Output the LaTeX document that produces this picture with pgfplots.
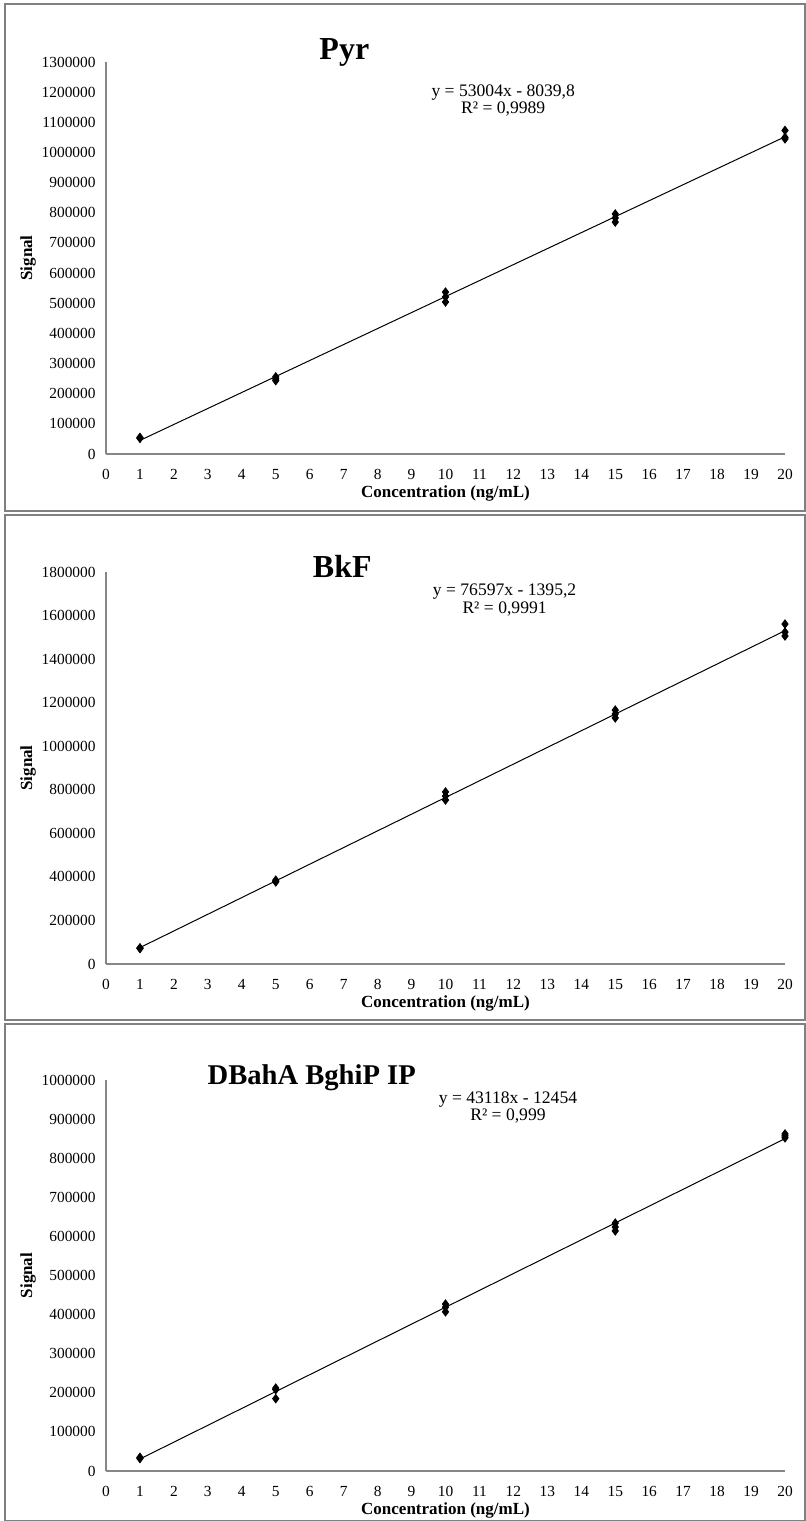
\documentclass[border=0pt]{standalone}
\usepackage{fontspec}
\setmainfont{Liberation Serif}
\usepackage{pgfplots}
\pgfplotsset{compat=1.18}
\definecolor{axgray}{RGB}{134,134,134}
\definecolor{framegray}{RGB}{128,128,128}

\tikzset{eqn/.style={font=\fontsize{8.8}{8.8}\selectfont, align=center}}
\pgfplotsset{
  calib/.style={
    scale only axis, width=339.5pt, height=196pt,
    anchor=south west,
    xmin=0, xmax=20, xtick={0,...,20}, ymin=0,
    axis lines=left,
    axis line style={axgray, line width=0.6pt, -},
    major tick length=0pt,
    tick label style={font=\fontsize{7.7}{9}\selectfont},
    /pgf/number format/assume math mode=true,
    scaled y ticks=false,
    yticklabel style={/pgf/number format/fixed, /pgf/number format/1000 sep={}, inner sep=0pt, xshift=-5pt},
    xticklabel style={inner sep=0pt, yshift=-7.5pt},
    xlabel={Concentration (ng/mL)},
    ylabel={Signal},
    label style={font=\bfseries\fontsize{8.5}{10}\selectfont},
    xlabel style={at={(axis description cs:0.5,-0.101)}, anchor=center},
    ylabel style={at={(axis description cs:-0.1149,0.5)}, anchor=center},
    clip=false,
  },
  pts/.style={only marks, mark=diamond*, mark size=2.1pt, black},
  fitl/.style={black, line width=0.5pt, no marks},
}

\begin{document}
\begin{tikzpicture}
\useasboundingbox (0,0) rectangle (403pt,760.5pt);
% frames
\draw[framegray, line width=0.6pt] (2.5pt,505pt) rectangle (402.5pt,758.5pt);
\draw[framegray, line width=0.6pt] (2.5pt,250.5pt) rectangle (402.5pt,503pt);
\draw[framegray, line width=0.6pt] (2.5pt,0.3pt) rectangle (402.5pt,248.5pt);

% Panel 1: Pyr
\begin{axis}[calib, at={(53pt,533.5pt)}, ymax=1300000, ytick distance=100000]
\addplot[pts] coordinates {
(1,53000) (1,52000) (1,55000)
(5,256000) (5,249000) (5,243000)
(10,537000) (10,521000) (10,504000)
(15,796000) (15,783000) (15,769000)
(20,1073000) (20,1050000) (20,1045000)
};
\addplot[fitl] coordinates {(1,44964.2) (20,1052040.2)};
\node[font=\bfseries\fontsize{16}{16}\selectfont] at (axis description cs:0.351,1.024) {Pyr};
\node[eqn] at (axis description cs:0.585,0.902) {y = 53004x - 8039,8\\R² = 0,9989};
\end{axis}

% Panel 2: BkF
\begin{axis}[calib, at={(53pt,278.5pt)}, ymax=1800000, ytick distance=200000]
\addplot[pts] coordinates {
(1,72000) (1,74000) (1,71000)
(5,385000) (5,380000) (5,377000)
(10,790000) (10,771000) (10,753000)
(15,1166000) (15,1148000) (15,1130000)
(20,1561000) (20,1524000) (20,1506000)
};
\addplot[fitl] coordinates {(1,75201.8) (20,1530544.8)};
\node[font=\bfseries\fontsize{16}{16}\selectfont] at (axis description cs:0.348,1.015) {BkF};
\node[eqn] at (axis description cs:0.587,0.928) {y = 76597x - 1395,2\\R² = 0,9991};
\end{axis}

% Panel 3: DBahA BghiP IP
\begin{axis}[calib, at={(53pt,25pt)}, height=195.5pt, ymax=1000000, ytick distance=100000]
\addplot[pts] coordinates {
(1,35000) (1,32000) (1,33000)
(5,212000) (5,208000) (5,185000)
(10,427000) (10,419000) (10,407000)
(15,634000) (15,624000) (15,614000)
(20,862000) (20,857000) (20,852000)
};
\addplot[fitl] coordinates {(1,30664) (20,849906)};
\node[font=\bfseries\fontsize{14.3}{14.3}\selectfont] at (axis description cs:0.303,1.005) {DBahA BghiP IP};
\node[eqn] at (axis description cs:0.592,0.93) {y = 43118x - 12454\\R² = 0,999};
\end{axis}
\end{tikzpicture}
\end{document}
